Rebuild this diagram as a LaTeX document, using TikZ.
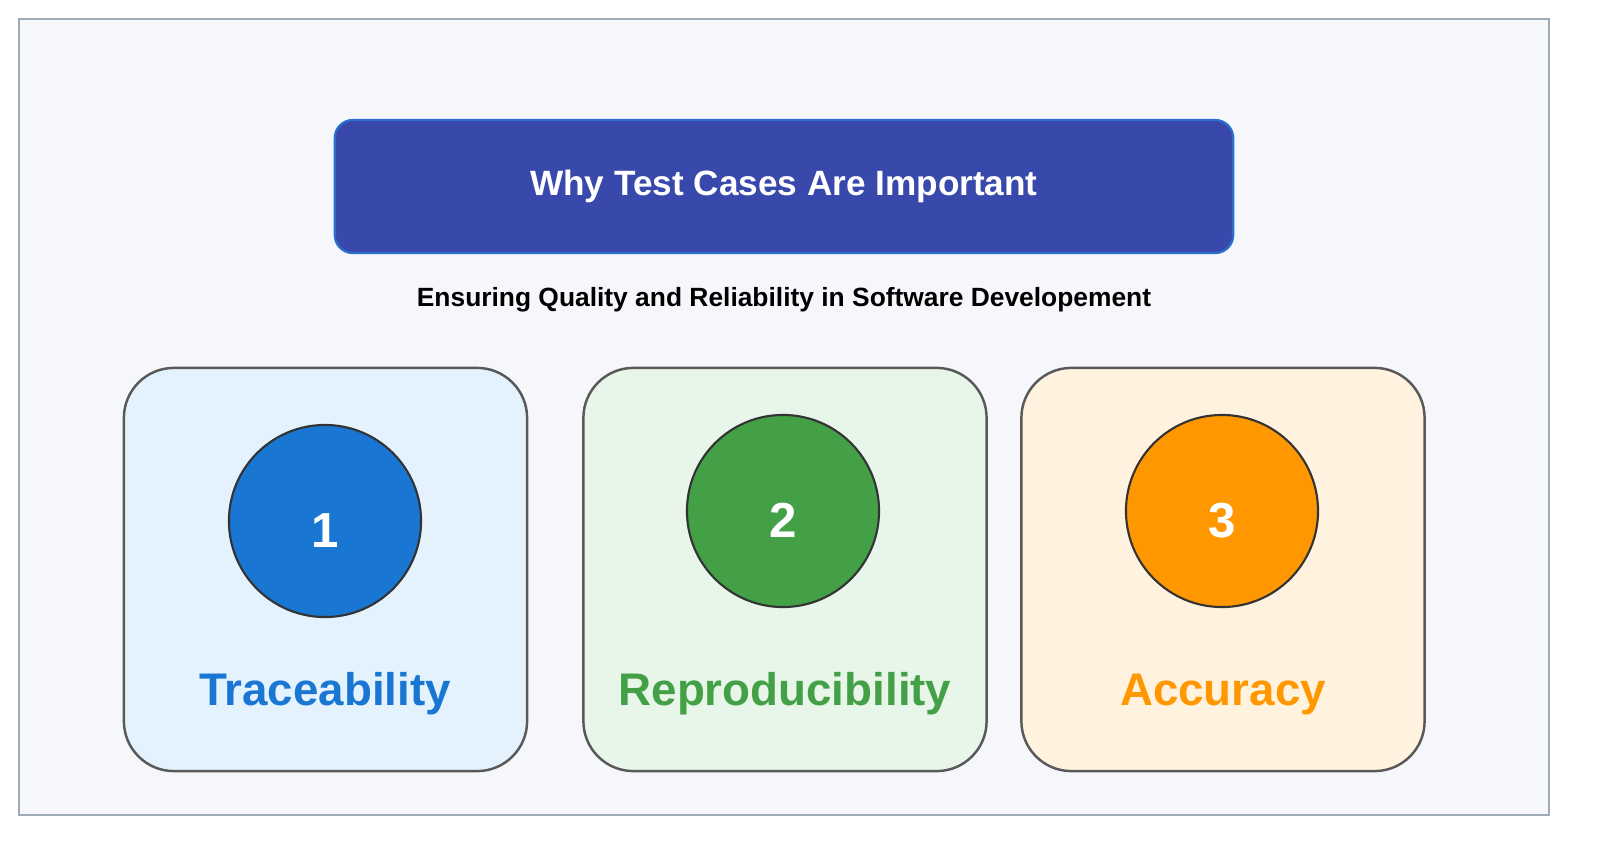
\documentclass[tikz,border=0pt]{standalone}
\usepackage{fontspec}
\setmainfont{Liberation Sans}
\usepackage{tikz}

\definecolor{framefill}{HTML}{F5F7FB}
\definecolor{frameline}{HTML}{9EACB8}
\definecolor{titlefill}{HTML}{3949AB}
\definecolor{titleline}{HTML}{2A6FCF}
\definecolor{bluefill}{HTML}{E3F2FD}
\definecolor{bluedark}{HTML}{1976D2}
\definecolor{greenfill}{HTML}{E8F5E9}
\definecolor{greendark}{HTML}{43A047}
\definecolor{orangefill}{HTML}{FFF3E0}
\definecolor{orangedark}{HTML}{FF9800}

\begin{document}
\begin{tikzpicture}[x=0.01cm, y=-0.01cm,
  card/.style={draw=black!65, line width=0.7pt, rounded corners=0.5cm,
    minimum width=4.03cm, minimum height=4.03cm, inner sep=0pt},
  badge/.style={circle, draw=black!80, line width=0.6pt, minimum size=1.92cm,
    inner sep=0pt, text=white, text height=0.53cm, text depth=0pt,
    font=\fontsize{14}{16}\selectfont\bfseries},
  cardlabel/.style={anchor=base, font=\fontsize{13}{15}\selectfont\bfseries}]
  \useasboundingbox (0, 0) rectangle (1599, 851);
  \draw[fill=framefill, draw=frameline, line width=0.8pt] (19, 19) rectangle (1549, 815);

  % heading
  \node[fill=titlefill, draw=titleline, line width=0.6pt, rounded corners=0.18cm,
    minimum width=8.98cm, minimum height=1.33cm, text=white,
    font=\fontsize{10}{12}\selectfont\bfseries] (title) at (784, 186.5) {Why Test Cases Are Important};
  \node[anchor=base, font=\fontsize{7.5}{9}\selectfont\bfseries] (subtitle) at (784, 306)
    {Ensuring Quality and Reliability in Software Developement};

  % cards
  \node[card, fill=bluefill] (trace) at (325.5, 569.5) {};
  \node[card, fill=greenfill] (repro) at (785, 569.5) {};
  \node[card, fill=orangefill] (accur) at (1223, 569.5) {};

  \node[badge, fill=bluedark] (one) at (325, 521) {1};
  \node[badge, fill=greendark] (two) at (783, 511) {2};
  \node[badge, fill=orangedark] (three) at (1222, 511) {3};

  \node[cardlabel, text=bluedark] (tracelabel) at (325, 705) {Traceability};
  \node[cardlabel, text=greendark] (reprolabel) at (785, 705) {Reproducibility};
  \node[cardlabel, text=orangedark] (accurlabel) at (1223, 705) {Accuracy};
\end{tikzpicture}
\end{document}
